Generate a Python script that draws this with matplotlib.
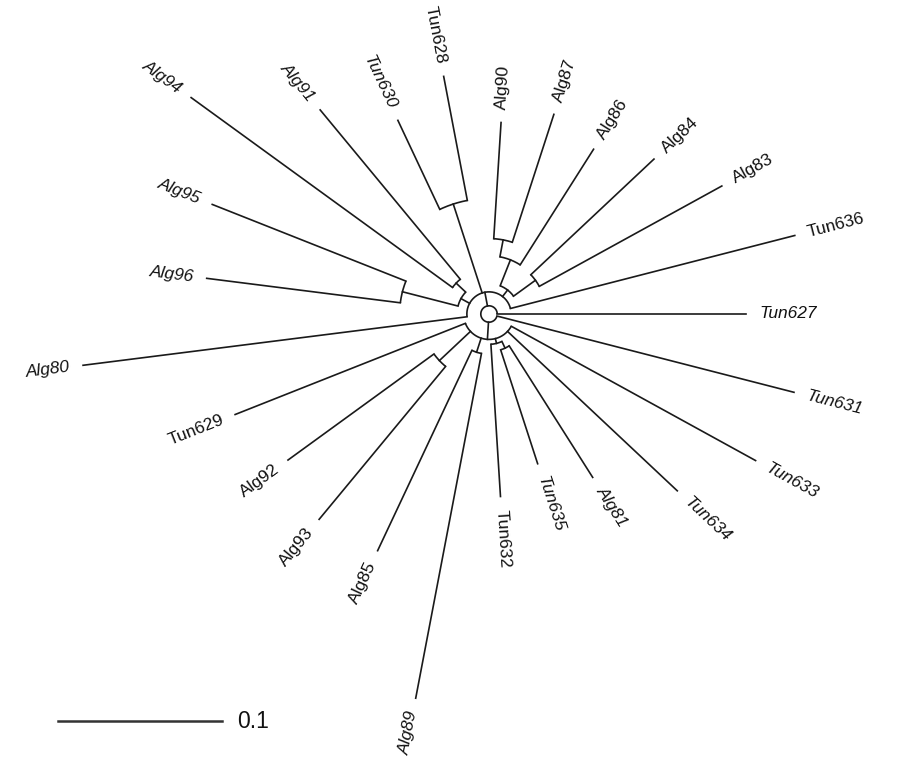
import numpy as np
import matplotlib.pyplot as plt

plt.rcParams['font.family'] = ['Liberation Sans', 'DejaVu Sans']

# tree topology: internal node -> children in drawing order (counter-clockwise)
children = {
    "root": ["Tun627", "up", "low", "Tun631"],
    "up": ["Tun636", "c83_90", "c628_630", "c91_96", "Alg80"],
    "c83_90": ["c83_84", "c86_90"],
    "c83_84": ["Alg83", "Alg84"],
    "c86_90": ["Alg86", "c87_90"],
    "c87_90": ["Alg87", "Alg90"],
    "c628_630": ["Tun628", "Tun630"],
    "c91_96": ["c91_94", "c95_96"],
    "c91_94": ["Alg91", "Alg94"],
    "c95_96": ["Alg95", "Alg96"],
    "low": ["Tun629", "c92_93", "c85_89", "c632_81", "Tun634", "Tun633"],
    "c92_93": ["Alg92", "Alg93"],
    "c85_89": ["Alg85", "Alg89"],
    "c632_81": ["Tun632", "c635_81"],
    "c635_81": ["Tun635", "Alg81"],
}

# branch lengths (substitutions per site)
root_len = 0.005
length = {
    "up": 0.0085, "low": 0.0105,
    "Tun627": 0.152, "Tun631": 0.187, "Tun636": 0.179,
    "c83_90": 0.005, "c83_84": 0.0165, "Alg83": 0.127, "Alg84": 0.103,
    "c86_90": 0.017, "Alg86": 0.0835, "c87_90": 0.0105,
    "Alg87": 0.082, "Alg90": 0.071,
    "c628_630": 0.057, "Tun628": 0.077, "Tun630": 0.060,
    "c91_96": 0.006, "c91_94": 0.008, "Alg91": 0.134, "Alg94": 0.197,
    "c95_96": 0.035, "Alg95": 0.127, "Alg96": 0.119,
    "Alg80": 0.236,
    "Tun629": 0.151, "c92_93": 0.026, "Alg92": 0.110, "Alg93": 0.121,
    "c85_89": 0.009, "Alg85": 0.135, "Alg89": 0.214,
    "c632_81": 0.003, "Tun632": 0.093, "c635_81": 0.0045,
    "Tun635": 0.073, "Alg81": 0.095,
    "Tun634": 0.142, "Tun633": 0.170,
}

italic = {"Alg94", "Alg91", "Tun630", "Alg95", "Alg96", "Alg80", "Alg89",
          "Tun635", "Alg81", "Tun634", "Tun633", "Tun631", "Tun627"}

n_leaves = 25
step = 360.0 / n_leaves
angle, radius = {}, {}
counter = [0]


def place(node, r):
    radius[node] = r
    if node not in children:
        angle[node] = counter[0] * step
        counter[0] += 1
        return
    for ch in children[node]:
        place(ch, r + length[ch])
    kids = children[node]
    angle[node] = (angle[kids[0]] + angle[kids[-1]]) / 2


place("root", root_len)

# canvas: 1640 px per unit branch length, tree centre at (489, 314) px
W, H, px = 897, 759, 1640.0
cx, cy = 489, 314
fig = plt.figure(figsize=(W / 100, H / 100), dpi=100)
ax = fig.add_axes([0, 0, 1, 1])
ax.set_xlim(-cx / px, (W - cx) / px)
ax.set_ylim(-(H - cy) / px, cy / px)
ax.axis('off')

lc = '#1a1a1a'
lw = 1.2


def polar(r, a):
    t = np.radians(a)
    return r * np.cos(t), r * np.sin(t)


for node, kids in children.items():
    r = radius[node]
    a = np.linspace(angle[kids[0]], angle[kids[-1]], 200)
    x, y = polar(r, a)
    ax.plot(x, y, color=lc, lw=lw, solid_capstyle='butt')
    for ch in kids:
        x0, y0 = polar(r, angle[ch])
        x1, y1 = polar(radius[ch], angle[ch])
        ax.plot([x0, x1], [y0, y1], color=lc, lw=lw)

# leaf labels
for leaf in length:
    if leaf in children:
        continue
    a = angle[leaf]
    tx, ty = polar(radius[leaf] + 0.008, a)
    if 90 < a < 270:
        rot, ha = a - 180, 'right'
    else:
        rot, ha = (a if a <= 90 else a - 360), 'left'
    ax.text(tx, ty, leaf, rotation=rot, ha=ha, va='center',
            rotation_mode='anchor', fontsize=12.5, color='#111',
            style='italic' if leaf in italic else 'normal')

# scale bar
sb_x = (58 - cx) / px
sb_y = (cy - 721) / px
ax.plot([sb_x, sb_x + 0.1], [sb_y, sb_y], color='#333', lw=1.8)
ax.text(sb_x + 0.1 + 0.009, sb_y, "0.1", ha='left', va='center',
        fontsize=16.5, color='#111')

fig.savefig('out.png', dpi=100)
